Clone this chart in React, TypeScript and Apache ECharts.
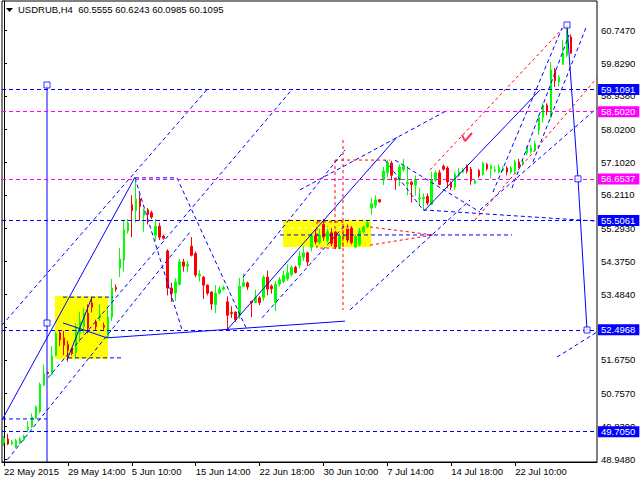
import React, { useEffect, useRef } from "react";
import * as echarts from "echarts";

const symbolName = "USDRUB,H4";
const lastQuote = [60.5555, 60.6243, 60.0985, 60.1095];

const timeLabels = ["22 May 2015", "29 May 14:00", "5 Jun 10:00", "15 Jun 14:00", "22 Jun 18:00", "30 Jun 10:00", "7 Jul 14:00", "14 Jul 18:00", "22 Jul 10:00"];
const barsPerLabel = 16;
const slotCount = 149;

const priceTicks = [60.747, 59.829, 58.938, 58.02, 57.102, 56.211, 55.293, 54.375, 53.484, 52.566, 51.675, 50.757, 49.839, 48.948];
const priceMin = 48.8655;
const priceMax = 61.545;

// [open, close, low, high]
const candles = [
  [49.39, 49.52, 49.30, 49.58], [49.50, 49.36, 49.33, 49.64], [49.36, 49.42, 49.33, 49.47], [49.28, 49.45, 49.25, 49.50],
  [49.40, 49.50, 49.35, 49.55], [49.47, 49.58, 49.45, 49.62], [49.75, 49.83, 49.68, 49.99], [49.83, 50.10, 49.80, 50.20],
  [50.07, 50.38, 50.05, 50.42], [50.25, 51.00, 50.20, 51.05], [50.98, 51.30, 50.95, 51.55], [51.33, 51.30, 51.28, 51.35],
  [51.27, 51.78, 51.25, 52.05], [51.80, 52.40, 51.78, 52.45], [52.42, 52.22, 52.05, 52.50], [52.28, 52.08, 51.80, 52.47],
  [52.10, 51.94, 51.62, 52.20], [51.99, 51.85, 51.80, 52.00], [51.87, 52.55, 51.73, 52.68], [52.41, 52.74, 52.17, 52.99],
  [52.59, 52.96, 52.40, 53.10], [52.96, 52.55, 52.40, 53.20], [53.24, 53.12, 52.98, 53.40], [52.72, 52.59, 52.50, 52.78],
  [52.85, 52.93, 52.74, 53.20], [52.62, 52.57, 52.50, 52.70], [52.30, 52.85, 52.30, 53.10], [52.85, 53.65, 52.75, 53.90],
  [53.67, 53.62, 53.55, 53.75], [54.20, 54.45, 53.95, 54.75], [54.42, 55.25, 54.10, 55.50], [55.22, 55.44, 55.15, 55.55],
  [55.94, 55.78, 55.05, 56.20], [55.78, 56.10, 55.45, 56.62], [56.10, 55.89, 55.50, 56.22], [55.65, 55.80, 55.20, 55.84],
  [55.80, 55.68, 55.40, 55.85], [55.72, 55.60, 55.55, 55.78], [55.10, 55.35, 54.95, 55.55], [55.35, 55.05, 54.97, 55.45],
  [55.08, 55.02, 54.98, 55.12], [54.67, 53.65, 53.45, 54.72], [53.65, 53.51, 53.27, 53.79], [53.51, 53.82, 53.30, 53.92],
  [53.75, 54.37, 53.72, 54.45], [54.37, 54.25, 54.10, 54.45], [54.25, 54.30, 54.10, 54.40], [54.80, 54.55, 54.52, 55.05],
  [54.60, 54.01, 53.95, 54.65], [53.98, 54.03, 53.83, 54.15], [53.95, 53.73, 53.35, 53.98], [53.73, 53.51, 53.45, 53.75],
  [53.54, 53.21, 53.05, 53.56], [53.19, 53.51, 52.96, 53.73], [53.51, 53.62, 53.47, 53.70], [53.62, 53.67, 53.58, 53.72],
  [53.27, 52.90, 52.50, 53.42], [52.98, 52.95, 52.83, 53.15], [52.99, 52.78, 52.72, 53.00], [52.90, 53.70, 52.80, 53.93],
  [53.70, 53.80, 53.68, 54.05], [53.79, 53.68, 53.60, 53.83], [53.28, 53.25, 52.85, 53.30], [53.25, 53.38, 53.25, 53.60],
  [53.38, 53.25, 53.18, 53.43], [53.38, 53.95, 53.30, 54.00], [53.95, 53.62, 53.45, 54.13], [53.70, 53.63, 53.50, 53.75],
  [53.25, 53.75, 53.02, 53.85], [53.76, 53.88, 53.70, 53.95], [53.83, 54.00, 53.78, 54.12], [53.90, 54.07, 53.85, 54.30],
  [54.02, 54.22, 53.97, 54.28], [54.22, 54.08, 54.05, 54.26], [54.28, 54.53, 54.19, 54.67], [54.50, 54.62, 54.40, 54.80],
  [54.62, 54.37, 54.25, 54.65], [54.77, 55.10, 54.66, 55.15], [55.08, 54.92, 54.85, 55.25], [54.90, 55.10, 54.85, 55.30],
  [55.40, 55.05, 54.95, 55.55], [54.95, 55.20, 54.90, 55.35], [55.17, 54.88, 54.80, 55.30], [55.19, 54.78, 54.72, 55.22],
  [54.78, 55.08, 54.72, 55.12], [55.06, 55.09, 55.00, 55.15], [55.33, 54.97, 54.90, 55.40], [55.30, 54.90, 54.85, 55.35],
  [54.78, 55.08, 54.75, 55.12], [54.84, 55.22, 54.80, 55.30], [55.20, 55.33, 55.15, 55.38], [55.33, 55.45, 55.30, 55.50],
  [55.85, 55.97, 55.66, 56.13], [55.93, 56.07, 55.85, 56.20], [56.08, 56.02, 56.00, 56.10], [56.62, 56.87, 56.48, 56.98],
  [56.82, 57.09, 56.70, 57.17], [57.09, 56.75, 56.62, 57.15], [56.67, 56.62, 56.35, 56.68], [56.62, 56.98, 56.45, 57.05],
  [56.90, 57.00, 56.85, 57.20], [56.52, 56.56, 56.20, 57.00], [56.56, 56.50, 56.00, 56.60], [56.48, 56.64, 56.20, 56.75],
  [56.10, 56.13, 55.93, 56.40], [56.10, 56.14, 55.80, 56.25], [56.17, 55.99, 55.93, 56.25], [55.95, 56.62, 55.93, 56.85],
  [56.62, 56.82, 56.58, 56.88], [56.82, 56.50, 56.48, 56.90], [57.00, 56.92, 56.88, 57.05], [56.95, 56.57, 56.40, 57.00],
  [56.55, 56.42, 56.35, 56.58], [56.43, 56.78, 56.35, 56.85], [56.75, 56.84, 56.70, 56.95], [56.84, 56.89, 56.80, 56.95],
  [57.00, 56.86, 56.80, 57.05], [56.92, 56.60, 56.49, 56.98], [56.53, 56.60, 56.50, 56.65], [56.88, 56.73, 56.68, 56.92],
  [56.77, 57.08, 56.74, 57.12], [57.05, 56.93, 56.88, 57.09], [56.93, 57.01, 56.67, 57.05], [56.87, 56.90, 56.83, 57.00],
  [56.85, 56.97, 56.80, 57.05], [56.90, 56.95, 56.85, 57.00], [56.95, 56.84, 56.75, 57.00], [56.84, 56.95, 56.78, 57.00],
  [56.87, 57.12, 56.80, 57.18], [57.12, 57.00, 56.95, 57.20], [57.07, 57.13, 57.02, 57.18], [57.37, 57.50, 57.30, 57.55],
  [57.40, 57.50, 57.35, 57.58], [57.45, 57.62, 57.40, 57.70], [58.00, 58.35, 57.86, 58.42], [58.35, 58.68, 58.20, 58.73],
  [58.68, 58.50, 58.40, 58.73], [58.35, 59.65, 58.33, 59.87], [59.65, 59.35, 59.18, 59.70], [59.32, 59.45, 59.20, 59.50],
  [59.80, 60.10, 59.80, 60.47], [60.05, 60.55, 60.00, 60.83], [60.5555, 60.1095, 60.0985, 60.6243],
];

const blueLevels = [59.1091, 55.5061, 52.4968, 49.705];
const magentaLevels = [58.502, 56.6537];
const currentPrice = 60.1095;

// annotation polylines in [bar index, price]
const solidLines = [
  [[-0.5, 50.02], [32.81, 56.70]],
  [[25.79, 52.28], [85.39, 52.74]],
  [[14.78, 52.69], [25.79, 52.28]],
  [[15.78, 51.67], [22.04, 53.40]],
  [[55.84, 52.50], [98.42, 57.80]],
  [[105.18, 55.77], [134.23, 59.10]],
  [[140.99, 60.885], [143.74, 56.6537], [146.0, 52.4968]],
  [[10.77, 59.235], [10.77, 48.87]],
];
const blueDashed = [
  [[-0.5, 52.63], [50.84, 59.11]],
  [[11.02, 51.18], [72.12, 59.11]],
  [[-0.25, 48.78], [46.58, 55.19]],
  [[32.81, 56.68], [44.58, 52.50]],
  [[43.32, 56.68], [60.85, 52.50]],
  [[32.81, 56.68], [43.32, 56.68]],
  [[59.85, 53.95], [85.39, 57.45]],
  [[64.61, 52.83], [85.39, 55.38]],
  [[95.41, 57.17], [104.93, 55.80]],
  [[97.91, 57.17], [119.2, 55.74]],
  [[104.93, 55.80], [148.5, 55.49]],
  [[74.13, 56.35], [111.19, 58.55]],
  [[69.12, 55.11], [127.21, 55.11]],
  [[86.65, 53.05], [116.7, 56.07]],
  [[122.46, 56.29], [139.74, 60.80]],
  [[127.21, 56.40], [141.49, 60.61]],
  [[132.47, 57.12], [146.0, 60.885]],
  [[119.2, 55.80], [148.5, 58.60]],
  [[138.48, 51.75], [148.5, 52.44]],
  [[14.78, 53.40], [27.30, 53.40]],
  [[16.03, 51.73], [30.05, 51.73]],
  [[-0.5, 50.05], [10.77, 50.05]],
];
const redDashed = [
  [[106.68, 56.90], [139.99, 60.80]],
  [[117.95, 55.52], [148.5, 59.43]],
  [[84.89, 57.72], [84.89, 53.05]],
  [[82.89, 57.17], [96.66, 57.17]],
  [[82.89, 57.17], [82.89, 54.81]],
  [[91.66, 55.33], [107.43, 55.11]],
  [[91.66, 54.83], [107.43, 55.11]],
  [[78.38, 55.47], [84.89, 55.47], [84.89, 54.75], [78.38, 54.75], [78.38, 55.47]],
];
const arrowMark = [[[114.69, 57.86], [115.45, 57.695], [117.2, 57.915]]];
const whiteDashed = [[[69.87, 55.30], [89.15, 55.30]]];
const highlightBoxes = [
  [[12.77, 53.43], [26.04, 51.70]],
  [[69.87, 55.53], [91.91, 54.78]],
];
const anchors = [[10.77, 59.235], [10.77, 52.689], [140.99, 60.885], [143.74, 56.6537], [146.0, 52.4968]];

const FONT = "Liberation Sans";
const DASH = [4, 3];

export default function App() {
  const ref = useRef<HTMLDivElement>(null);
  useEffect(() => {
    if (!ref.current) return;
    const chart = echarts.init(ref.current, null, { renderer: "svg" });
    const slots = Array.from({ length: slotCount }, (_, i) => String(i));
    const showTick = (i: number) => i % barsPerLabel === 0 && i / barsPerLabel < timeLabels.length;

    const segSeries = (lines: number[][][], color: string, type: any, z: number, width = 1) =>
      lines.map((pts) => ({
        type: "line",
        xAxisIndex: 1,
        yAxisIndex: 0,
        data: pts,
        symbol: "none",
        showSymbol: false,
        silent: true,
        clip: true,
        lineStyle: { color, width, type },
        z,
      }));

    const levelItem = (v: number, color: string, bg: string, hideLine = false) => ({
      yAxis: v,
      lineStyle: { color, type: DASH, width: hideLine ? 0 : 1, opacity: hideLine ? 0 : 1 },
      label: {
        show: true,
        position: "end",
        distance: 1,
        formatter: () => v.toFixed(4),
        color: "#ffffff",
        backgroundColor: bg,
        fontFamily: FONT,
        fontSize: 9.5,
        padding: [1, 4, 0, 3],
      },
    });

    chart.setOption({
      animation: false,
      backgroundColor: "#ffffff",
      textStyle: { fontFamily: FONT },
      grid: { left: 2, right: 43, top: 1, bottom: 18, show: true, borderColor: "#000", borderWidth: 1, backgroundColor: "#fff" },
      graphic: [
        { type: "polygon", shape: { points: [[6, 8], [13, 8], [9.5, 12]] }, style: { fill: "#000" }, z: 10 },
        {
          type: "text",
          left: 18,
          top: 4,
          z: 10,
          style: {
            text: `${symbolName}  ${lastQuote.map((v) => v.toFixed(4)).join(" ")}`,
            fill: "#000",
            fontFamily: FONT,
            fontSize: 9.5,
          },
        },
      ],
      xAxis: [
        {
          type: "category",
          data: slots,
          boundaryGap: true,
          axisLine: { lineStyle: { color: "#000" } },
          axisTick: { show: true, alignWithLabel: true, interval: (i: number) => showTick(i), length: 4, lineStyle: { color: "#000" } },
          axisLabel: {
            interval: (i: number) => showTick(i),
            formatter: (_v: string, i: number) => timeLabels[Math.round(i / barsPerLabel)] ?? "",
            align: "left",
            color: "#000",
            fontFamily: FONT,
            fontSize: 9.5,
            margin: 4,
          },
          splitLine: { show: false },
        },
        { type: "value", min: -0.5, max: slotCount - 0.5, show: false },
      ],
      yAxis: {
        type: "value",
        position: "right",
        min: priceMin,
        max: priceMax,
        axisLine: { show: true, lineStyle: { color: "#000" } },
        axisTick: { show: true, length: 3, customValues: priceTicks, lineStyle: { color: "#000" } },
        axisLabel: {
          customValues: priceTicks,
          formatter: (v: number) => v.toFixed(4),
          color: "#000",
          fontFamily: FONT,
          fontSize: 9.5,
          margin: 4,
        },
        splitLine: { show: false },
      },
      series: [
        {
          type: "line",
          xAxisIndex: 1,
          data: highlightBoxes.flat(),
          symbol: "none",
          lineStyle: { opacity: 0 },
          silent: true,
          z: 1,
          markArea: {
            silent: true,
            itemStyle: { color: "#ffff00" },
            data: highlightBoxes.map(([a, b]) => [{ coord: a }, { coord: b }]),
          },
        },
        {
          type: "candlestick",
          xAxisIndex: 0,
          data: candles,
          barWidth: 2,
          silent: true,
          z: 2,
          itemStyle: { color: "#00ff00", color0: "#ff0000", borderColor: "#00ff00", borderColor0: "#ff0000", borderWidth: 1 },
        },
        ...segSeries(whiteDashed, "#ffffff", DASH, 3),
        ...segSeries(redDashed, "#ff0000", [3, 3], 3),
        ...segSeries(arrowMark, "#ff3366", "solid", 3, 2),
        ...segSeries(blueDashed, "#0000ff", DASH, 3),
        ...segSeries(solidLines, "#0000ff", "solid", 4),
        {
          type: "scatter",
          xAxisIndex: 1,
          data: anchors,
          symbol: "rect",
          symbolSize: 6,
          silent: true,
          itemStyle: { color: "#ffffff", borderColor: "#0000ff", borderWidth: 1 },
          z: 5,
        },
        {
          type: "line",
          xAxisIndex: 1,
          data: [[0, currentPrice]],
          symbol: "none",
          lineStyle: { opacity: 0 },
          silent: true,
          z: 6,
          markLine: {
            silent: true,
            symbol: ["none", "none"],
            data: [
              ...blueLevels.map((v) => levelItem(v, "#0000ff", "#0000ff")),
              ...magentaLevels.map((v) => levelItem(v, "#ff00ff", "#ff00ff")),
              levelItem(currentPrice, "#000000", "#000000", true),
            ],
          },
        },
      ],
    });
    return () => chart.dispose();
  }, []);
  return <div ref={ref} style={{ position: "fixed", left: 0, top: 0, width: 640, height: 480 }} />;
}
